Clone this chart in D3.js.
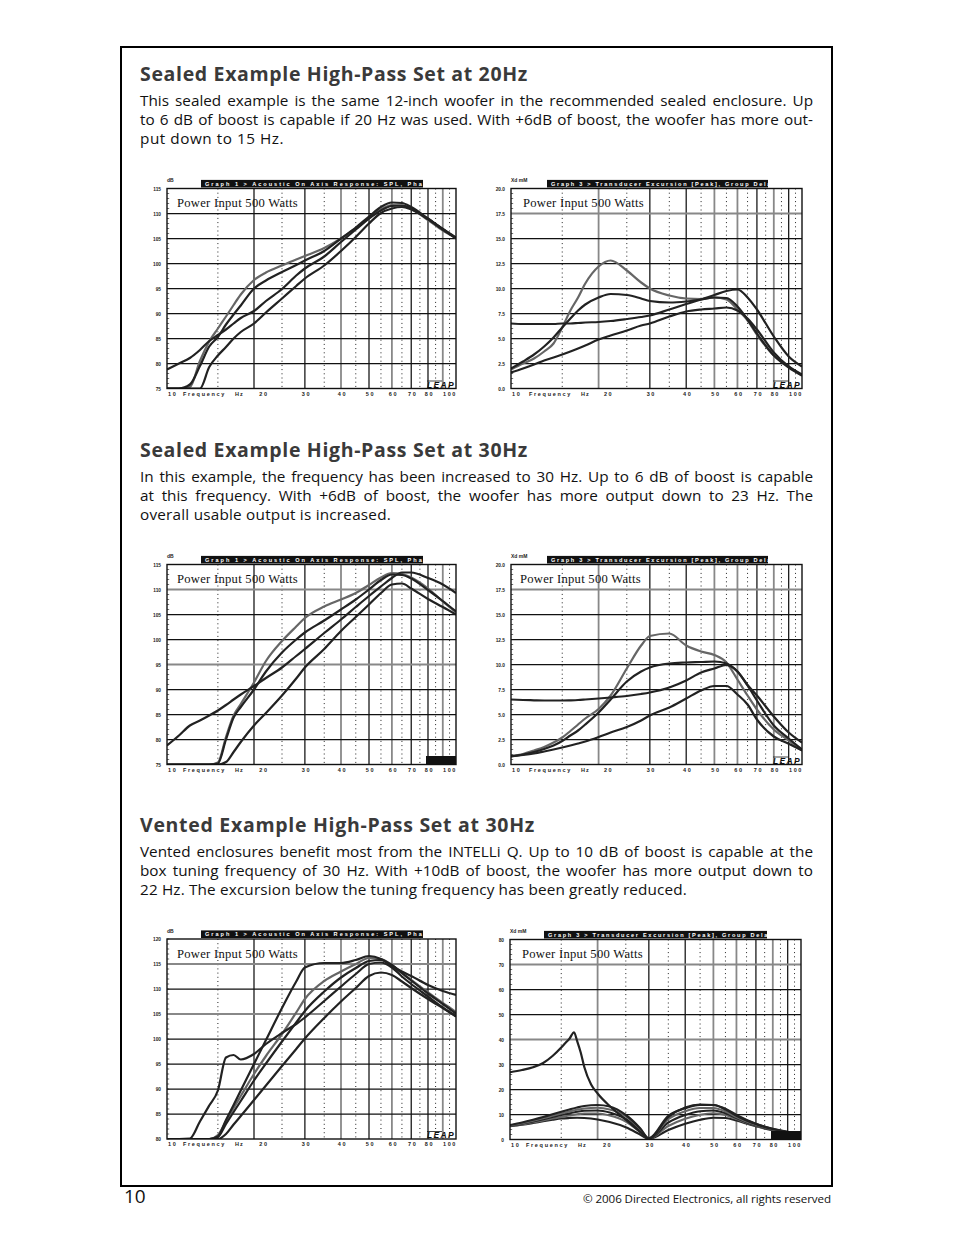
<!DOCTYPE html>
<html><head><meta charset="utf-8">
<script src="https://cdn.jsdelivr.net/npm/d3@7"></script>
<style>html,body{margin:0;padding:0;background:#fff;} svg{display:block}</style>
</head><body><div id="page"></div>
<script>
// ---------------- DATA ----------------
const FREQ = [10,11,12,13,14,15,16,17,18,20,22,25,28,30,35,40,45,50,55,60,65,70,80,90,100];
const X_FREQ = [10,11,12,13,14,15,15.5,16,16.6,17,17.5,18,19,20,22,25,28,30,35,40,45,50,55,60,70,80,90,100];

// Chart 1: sealed 20 Hz, SPL (dB)
const c1Grey   = [75,75,75.3,80.5,84.4,87,89.4,91.7,93.8,96.7,98.2,99.6,100.8,101.5,103.1,105,107,109.1,110.8,111.7,111.6,110.9,108.7,106.6,105.1];
const c1BlackB = [75,75,75.8,79.5,83.4,85.3,87.8,89.8,91.6,95,96.6,98.3,99.7,100.6,102.5,105,107.2,109.4,111.3,112.2,112.1,111.3,109,106.9,105.2];
const c1BlackA = [78.8,80.0,81.1,82.7,84.5,85.7,86.8,88.0,89.1,90.5,92.5,94.9,97.6,99,101.4,104.3,106.8,109,110.6,111.5,111.6,111.0,108.9,106.9,105];
const c1BlackD = [75,75,75,75,79.3,81.6,83.3,85,86.3,88,90.2,93,95.5,97,99.6,102.5,105.3,108,110.1,111,111.3,110.8,108.9,106.8,105.1];

// Chart 2: sealed 20 Hz, excursion (mm)
const c2Grey   = [1.9,2.5,3.0,3.7,4.5,6.1,7.8,9.1,10.5,12.2,12.8,11.8,10.6,10.0,9.3,9.0,8.95,9.1,8.9,7.9,6.8,5.4,3.3,2.2,1.3];
const c2BlackB = [2.0,2.7,3.4,4.2,5.1,6.1,7.0,7.8,8.4,9.1,9.45,9.35,9.0,8.75,8.6,8.7,8.9,9.1,9.05,8.2,6.9,5.5,3.3,2.1,1.3];
const c2BlackA = [6.5,6.45,6.45,6.45,6.45,6.5,6.5,6.55,6.6,6.65,6.75,6.95,7.15,7.3,7.9,8.45,8.9,9.35,9.75,9.9,9.1,7.9,5.2,3.2,2.2];
const c2BlackD = [1.6,2.0,2.4,2.8,3.1,3.4,3.7,4.0,4.3,4.9,5.3,5.8,6.3,6.5,7.2,7.7,7.9,8.0,8.1,7.8,7.0,5.9,3.6,2.2,1.4];

// Chart 3: sealed 30 Hz, SPL (dB)
const c3BlackA = [78.8,80.8,82.8,83.8,84.8,85.8,86.9,88,89,90.7,92.3,94.4,96.7,98.1,101.3,104,106.5,108.7,110.6,112.3,113.4,113.4,112.3,111,109.3];
const c3Grey   = [75,75,75,75,75,75.4,80.5,84.8,87.1,91.4,95.7,99.7,102.6,104.3,106.6,108,109.3,110.9,112.4,113.3,113.1,112.4,110.2,107.6,105.4];
const c3BlackB = [75,75,75,75,75,75.2,80,84.4,86.5,90,93.6,97.4,100.0,101.4,103.8,106,108,110,111.9,113.0,112.9,112.2,109.9,107.7,105.6];
const c3BlackD = [75,75,75,75,75,75,75.5,77.5,79.5,82.8,85.3,88.8,92.2,94.4,98.1,101.7,104.5,107,109.3,111,111.2,110.2,108.1,106.5,105];

// Chart 4: sealed 30 Hz, excursion (mm)
const c4Grey   = [0.83,1.05,1.4,1.75,2.2,2.7,3.35,4.0,4.6,5.55,6.9,9.6,11.9,12.85,13.1,11.9,11.3,10.95,10.2,8.5,6.9,5.5,3.5,2.4,1.4];
const c4BlackB = [0.8,1.0,1.25,1.55,1.9,2.35,2.9,3.4,4.0,5.2,6.5,8.3,9.3,9.7,10.1,10.2,10.25,10.3,10.1,9.3,7.9,6.4,3.9,2.6,1.5];
const c4BlackA = [6.5,6.45,6.42,6.4,6.4,6.4,6.42,6.45,6.5,6.6,6.7,6.85,7.05,7.2,7.7,8.4,9.2,9.6,9.95,9.3,7.95,6.9,4.8,3.2,2.2];
const c4BlackD = [0.83,0.95,1.1,1.3,1.5,1.7,1.9,2.1,2.3,2.75,3.2,3.75,4.4,4.9,5.7,6.6,7.4,7.85,7.85,7.0,6.0,4.5,2.8,2.07,1.4];

// Chart 5: vented 30 Hz, SPL (dB)
const c5Bump   = [80,80,80.1,83.5,86.7,89.7,96.3,96.8,95.9,97.0,99.0,101.2,103.0,104.3,107.6,110.5,113.0,115.0,115.3,114.3,112.5,111.0,108.5,106.3,104.5];
const c5Knee   = [80,80,80,80,80,80.5,83.8,86.8,89.7,95,99.8,106.2,111.5,114.3,115.2,115.2,115.8,116.6,116.0,114.6,113.5,112.6,110.8,109.6,108.8];
const c5Grey   = [80,80,80,80,80,80.8,83.6,86.2,88.6,93,96.6,101,105.3,108.0,111.6,113.5,115.0,116.2,116.0,114.8,113.2,111.8,109.3,107.2,105.4];
const c5BlackB = [80,80,80,80,80,80.4,83,85.4,87.6,91.7,95.1,99.5,103.3,105.6,109.5,112.3,114.2,115.6,115.8,114.8,113.2,111.7,109.1,107.0,105.1];
const c5Low    = [80,80,80,80,80,80,81.0,82.9,84.6,87.8,90.7,94.6,98.0,100.1,104.2,107.5,110.2,112.6,113.3,112.8,111.5,110.2,108.0,106.2,104.6];

// Chart 6: vented 30 Hz, excursion (mm)
const c6E1 = [5.8,6.8,7.9,9.0,10.1,11.1,12.0,12.8,13.4,13.8,13.2,9.8,4.5,0.5,9.5,12.5,13.8,13.8,12.0,9.5,7.6,6.2,4.2,3.0,2.3];
const c6E2 = [5.6,6.5,7.5,8.5,9.5,10.4,11.2,11.9,12.4,12.7,12.0,9.3,4.2,0.4,8.2,11.3,12.6,12.6,11.2,9.0,7.2,5.9,4.0,2.9,2.2];
const c6E3 = [5.5,6.3,7.2,8.1,9.0,9.8,10.5,11.1,11.5,11.6,10.8,8.2,3.6,0.3,6.8,9.8,11.3,11.6,10.5,8.6,6.9,5.7,3.9,2.8,2.1];
const c6E4 = [5.4,6.1,6.9,7.6,8.4,9.0,9.6,10.1,10.4,10.4,9.6,7.2,3.0,0.3,5.4,8.3,9.9,10.5,9.8,8.2,6.7,5.5,3.8,2.7,2.0];
const c6E5 = [5.3,5.9,6.6,7.3,7.9,8.4,8.6,8.7,8.6,8.0,7.0,4.9,2.0,0.2,3.8,6.3,7.9,8.7,8.6,7.6,6.4,5.3,3.7,2.7,2.0];
const c6X  = [26.9,27.8,28.9,30.6,33.4,36.8,38.6,40.3,42.9,39.5,34.8,29.0,22.0,18.4,13.4,7.9,3.0,0.3,9.0,12.8,14.0,13.8,12.3,9.8,6.3,4.3,3.1,2.4];

// Axis ticks
const yTicksSpl75 = [75,80,85,90,95,100,105,110,115];
const yTicksXd20  = [0,2.5,5,7.5,10,12.5,15,17.5,20];
const yTicksSpl80 = [80,85,90,95,100,105,110,115,120];
const yTicksXd80  = [0,10,20,30,40,50,60,70,80];
const xTickLabels = [10,20,30,40,50,60,70,80,100];
const solidFreqs  = [20,30,40,50,60,70,80,90];
const dottedFreqs = [15,25,35,45,55,65,75,85,95];

// Texts
const headings = ["Sealed Example High-Pass Set at 20Hz","Sealed Example High-Pass Set at 30Hz","Vented Example High-Pass Set at 30Hz"];
const para1 = ["This sealed example is the same 12-inch woofer in the recommended sealed enclosure. Up",
               "to 6 dB of boost is capable if 20 Hz was used. With +6dB of boost, the woofer has more out-",
               "put down to 15 Hz."];
const para2 = ["In this example, the frequency has been increased to 30 Hz. Up to 6 dB of boost is capable",
               "at this frequency. With +6dB of boost, the woofer has more output down to 23 Hz. The",
               "overall usable output is increased."];
const para3 = ["Vented enclosures benefit most from the INTELLi Q. Up to 10 dB of boost is capable at the",
               "box tuning frequency of 30 Hz. With +10dB of boost, the woofer has more output down to",
               "22 Hz. The excursion below the tuning frequency has been greatly reduced."];
const splTitle = "Graph 1 > Acoustic On Axis Response: SPL, Phase";
const xdTitle  = "Graph 3 > Transducer Excursion [Peak], Group Delay";
const powerText = "Power Input 500 Watts";

// ---------------- DRAW ----------------
const W = 954, H = 1235;
const svg = d3.select('#page').append('svg').attr('width', W).attr('height', H).attr('viewBox', `0 0 ${W} ${H}`);
svg.append('rect').attr('width', W).attr('height', H).attr('fill', '#fff');
svg.append('rect').attr('x', 121).attr('y', 47).attr('width', 711).attr('height', 1139)
  .attr('fill', 'none').attr('stroke', '#000').attr('stroke-width', 2);

const SANS = "'Open Sans', 'Noto Sans', sans-serif";
const CHART_SANS = "'Liberation Sans', Arial, sans-serif";

function fit(sel, target, mode) {
  const n = sel.node();
  const w = n.getComputedTextLength();
  const t = n.textContent;
  if (mode === 'word') {
    const spaces = (t.match(/ /g) || []).length;
    if (spaces) sel.attr('word-spacing', ((target - w) / spaces).toFixed(3));
  } else {
    sel.attr('letter-spacing', ((target - w) / t.length).toFixed(3));
  }
}

const sections = [
  { off: 0,   head: headings[0], headW: 388, para: para1, lastW: 144 },
  { off: 376, head: headings[1], headW: 388, para: para2, lastW: 251 },
  { off: 751, head: headings[2], headW: 395, para: para3, lastW: 547 }
];

sections.forEach(s => {
  const h = svg.append('text').attr('x', 140).attr('y', 81 + s.off)
    .attr('font-family', SANS).attr('font-weight', 700).attr('font-size', 19.5)
    .attr('fill', '#3a3a3a').text(s.head);
  fit(h, s.headW, 'letter');
  s.para.forEach((line, i) => {
    const t = svg.append('text').attr('x', 140).attr('y', 105.5 + s.off + i * 19.3)
      .attr('font-family', SANS).attr('font-size', 15.3).attr('fill', '#111').text(line);
    if (i < s.para.length - 1) fit(t, 673, 'word');
    else fit(t, s.lastW, 'letter');
  });
});

// footer
svg.append('text').attr('x', 124).attr('y', 1202.5).attr('font-family', SANS).attr('font-size', 19).attr('fill', '#111').text('10');
const cp = svg.append('text').attr('x', 583).attr('y', 1202.5).attr('font-family', SANS).attr('font-size', 11.6).attr('fill', '#111')
  .text('© 2006 Directed Electronics, all rights reserved');
fit(cp, 248, 'letter');

let clipId = 0;
function drawChart(cfg) {
  const { x0, x1, y0, y1 } = cfg;
  const g = svg.append('g');
  const x = d3.scaleLog().domain([10, 100]).range([x0, x1]);
  const y = d3.scaleLinear().domain(cfg.yDomain).range([y1, y0]);

  g.append('rect').attr('x', x0).attr('y', y0).attr('width', x1 - x0).attr('height', y1 - y0).attr('fill', '#fff');

  // minor ticks on left edge
  const [ymin, ymax] = cfg.yDomain;
  const minors = d3.range(ymin, ymax + 1e-9, cfg.minorStep);
  g.selectAll(null).data(minors).join('line')
    .attr('x1', x0).attr('x2', x0 + 2.2).attr('y1', d => y(d)).attr('y2', d => y(d))
    .attr('stroke', '#333').attr('stroke-width', 0.7);

  // dotted verticals
  g.selectAll(null).data(dottedFreqs).join('line')
    .attr('x1', d => x(d)).attr('x2', d => x(d)).attr('y1', y0).attr('y2', y1)
    .attr('stroke', '#222').attr('stroke-width', 1).attr('stroke-dasharray', '1,3.2');

  // solid verticals
  g.selectAll(null).data(solidFreqs).join('line')
    .attr('x1', d => x(d)).attr('x2', d => x(d)).attr('y1', y0).attr('y2', y1)
    .attr('stroke', d => cfg.vColors[d] === 'g' ? '#888' : '#111')
    .attr('stroke-width', d => cfg.vColors[d] === 'g' ? 1.8 : 1.25);

  // horizontals
  g.selectAll(null).data(cfg.yTicks.slice(1, -1)).join('line')
    .attr('x1', x0).attr('x2', x1).attr('y1', d => y(d)).attr('y2', d => y(d))
    .attr('stroke', d => (cfg.hGrey || []).includes(d) ? '#888' : '#111')
    .attr('stroke-width', d => (cfg.hGrey || []).includes(d) ? 1.8 : 1.25);

  // curves
  const id = 'clip' + (clipId++);
  svg.append('clipPath').attr('id', id).append('rect')
    .attr('x', x0).attr('y', y0 - 1).attr('width', x1 - x0).attr('height', y1 - y0 + 1);
  const line = d3.line().x(d => x(d[0])).y(d => y(Math.max(d[1], ymin))).curve(d3.curveMonotoneX);
  const lg = g.append('g').attr('clip-path', `url(#${id})`);
  cfg.series.forEach(s => {
    const pts = s.freq.map((f, i) => [f, s.values[i]]);
    lg.append('path').attr('d', line(pts)).attr('fill', 'none')
      .attr('stroke', s.color === 'grey' ? '#666' : '#222')
      .attr('stroke-width', 2.2).attr('stroke-linejoin', 'round');
  });

  // border
  g.append('rect').attr('x', x0).attr('y', y0).attr('width', x1 - x0).attr('height', y1 - y0)
    .attr('fill', 'none').attr('stroke', '#111').attr('stroke-width', 1.4);

  // y tick labels
  g.selectAll(null).data(cfg.yTicks).join('text')
    .attr('x', x0 - 6).attr('y', d => y(d) + 2.2).attr('text-anchor', 'end')
    .attr('font-family', CHART_SANS).attr('font-weight', 700).attr('font-size', 4.8).attr('fill', '#222')
    .text(d => cfg.yFmt(d));

  // unit label
  g.append('text').attr('x', x0).attr('y', y0 - 6.2).attr('font-family', CHART_SANS).attr('font-weight', 700)
    .attr('font-size', 5).attr('fill', '#222').text(cfg.unit);

  // title bar
  const bx = x0 + cfg.barOff, bw = cfg.barW, by = y0 - 8.6, bh = 7.6;
  g.append('rect').attr('x', bx).attr('y', by).attr('width', bw).attr('height', bh).attr('fill', '#111');
  const tid = 'tclip' + (clipId++);
  svg.append('clipPath').attr('id', tid).append('rect').attr('x', bx).attr('y', by).attr('width', bw).attr('height', bh);
  const tt = g.append('text').attr('clip-path', `url(#${tid})`).attr('x', bx + 4).attr('y', by + 5.8)
    .attr('font-family', CHART_SANS).attr('font-weight', 700).attr('font-size', 5.6).attr('fill', '#fff')
    .text(cfg.title);
  fit(tt, cfg.titleLen, 'letter');

  // x labels
  const ly = y1 + 7;
  g.selectAll(null).data(xTickLabels).join('text')
    .attr('x', d => d === 10 ? x0 + 1 : d === 100 ? x1 + 1 : x(d) + (d === 20 ? 10 : 1.5))
    .attr('y', ly)
    .attr('text-anchor', d => d === 10 ? 'start' : d === 100 ? 'end' : 'middle')
    .attr('font-family', CHART_SANS).attr('font-weight', 700).attr('font-size', 5.5).attr('fill', '#222')
    .attr('letter-spacing', 1.6).text(d => String(d));
  const fq = g.append('text').attr('x', x0 + cfg.freqOff).attr('y', ly).attr('font-family', CHART_SANS)
    .attr('font-weight', 700).attr('font-size', 5.5).attr('fill', '#222').text('Frequency');
  fit(fq, 43, 'letter');
  const hz = g.append('text').attr('x', x0 + cfg.freqOff + 52).attr('y', ly).attr('font-family', CHART_SANS)
    .attr('font-weight', 700).attr('font-size', 5.5).attr('fill', '#222').text('Hz');
  fit(hz, 9, 'letter');

  // power text
  const pt = g.append('text').attr('x', x0 + cfg.powOff).attr('y', y0 + 18.5)
    .attr('font-family', "'Liberation Serif', 'Times New Roman', serif").attr('font-size', 12.6).attr('fill', '#111')
    .text(powerText);
  fit(pt, 121, 'letter');

  // logo
  if (cfg.logo === 'box') {
    g.append('rect').attr('x', x1 - 30).attr('y', y1 - 8.5).attr('width', 30).attr('height', 8.5).attr('fill', '#111');
  } else {
    const lt = g.append('text').attr('x', x1 - 29).attr('y', y1 - 0.8).attr('font-family', CHART_SANS)
      .attr('font-weight', 700).attr('font-style', 'italic').attr('font-size', 8.5).attr('fill', '#111').text('LEAP');
    fit(lt, 28, 'letter');
    g.append('line').attr('x1', x1 - 29).attr('x2', x1 - 14).attr('y1', y1 - 7.5).attr('y2', y1 - 7.5)
      .attr('stroke', '#111').attr('stroke-width', 0.8);
  }
  return g;
}

const vLeft  = {20:'k',30:'k',40:'g',50:'k',60:'g',70:'k',80:'k',90:'g'};
const vRight = {20:'g',30:'k',40:'k',50:'g',60:'g',70:'k',80:'g',90:'k'};
const fmt1 = d3.format('.1f'), fmt0 = d3.format('d');

const charts = [
  { x0:167, x1:456, y0:188.5, y1:388.5, yDomain:[75,115], yTicks:yTicksSpl75, yFmt:fmt0, unit:'dB', minorStep:1,
    title:splTitle, titleLen:229, barOff:34, barW:222, freqOff:16, powOff:10, logo:'text', vColors:vLeft,
    series:[{freq:FREQ,values:c1Grey,color:'grey'},{freq:FREQ,values:c1BlackB,color:'black'},
            {freq:FREQ,values:c1BlackA,color:'black'},{freq:FREQ,values:c1BlackD,color:'black'}] },
  { x0:511, x1:802, y0:188.5, y1:388.5, yDomain:[0,20], yTicks:yTicksXd20, yFmt:fmt1, unit:'Xd mM', minorStep:0.5,
    title:xdTitle, titleLen:226, barOff:36, barW:221, freqOff:18, powOff:12, logo:'text', vColors:vRight, hGrey:[17.5],
    series:[{freq:FREQ,values:c2Grey,color:'grey'},{freq:FREQ,values:c2BlackB,color:'black'},
            {freq:FREQ,values:c2BlackA,color:'black'},{freq:FREQ,values:c2BlackD,color:'black'}] },
  { x0:167, x1:456, y0:564.5, y1:764.5, yDomain:[75,115], yTicks:yTicksSpl75, yFmt:fmt0, unit:'dB', minorStep:1,
    title:splTitle, titleLen:229, barOff:34, barW:222, freqOff:16, powOff:10, logo:'box', vColors:vLeft, hGrey:[110,95],
    series:[{freq:FREQ,values:c3Grey,color:'grey'},{freq:FREQ,values:c3BlackB,color:'black'},
            {freq:FREQ,values:c3BlackA,color:'black'},{freq:FREQ,values:c3BlackD,color:'black'}] },
  { x0:511, x1:802, y0:564.5, y1:764.5, yDomain:[0,20], yTicks:yTicksXd20, yFmt:fmt1, unit:'Xd mM', minorStep:0.5,
    title:xdTitle, titleLen:226, barOff:36, barW:221, freqOff:18, powOff:9, logo:'text', vColors:vRight, hGrey:[17.5],
    series:[{freq:FREQ,values:c4Grey,color:'grey'},{freq:FREQ,values:c4BlackB,color:'black'},
            {freq:FREQ,values:c4BlackA,color:'black'},{freq:FREQ,values:c4BlackD,color:'black'}] },
  { x0:167, x1:456, y0:939, y1:1139, yDomain:[80,120], yTicks:yTicksSpl80, yFmt:fmt0, unit:'dB', minorStep:1,
    title:splTitle, titleLen:229, barOff:34, barW:222, freqOff:16, powOff:10, logo:'text', vColors:vLeft, hGrey:[115,105],
    series:[{freq:FREQ,values:c5Low,color:'black'},{freq:FREQ,values:c5Grey,color:'grey'},
            {freq:FREQ,values:c5BlackB,color:'black'},{freq:FREQ,values:c5Bump,color:'black'},
            {freq:FREQ,values:c5Knee,color:'black'}] },
  { x0:510, x1:801, y0:939.5, y1:1139.5, yDomain:[0,80], yTicks:yTicksXd80, yFmt:fmt0, unit:'Xd mM', minorStep:2,
    title:xdTitle, titleLen:226, barOff:34, barW:223, freqOff:16, powOff:12, logo:'box', vColors:vRight, hGrey:[70,40],
    series:[{freq:FREQ,values:c6E5,color:'black'},{freq:FREQ,values:c6E4,color:'grey'},
            {freq:FREQ,values:c6E3,color:'black'},{freq:FREQ,values:c6E2,color:'grey'},
            {freq:FREQ,values:c6E1,color:'black'},{freq:X_FREQ,values:c6X,color:'black'}] }
];
charts.forEach(drawChart);
</script>
</body></html>
